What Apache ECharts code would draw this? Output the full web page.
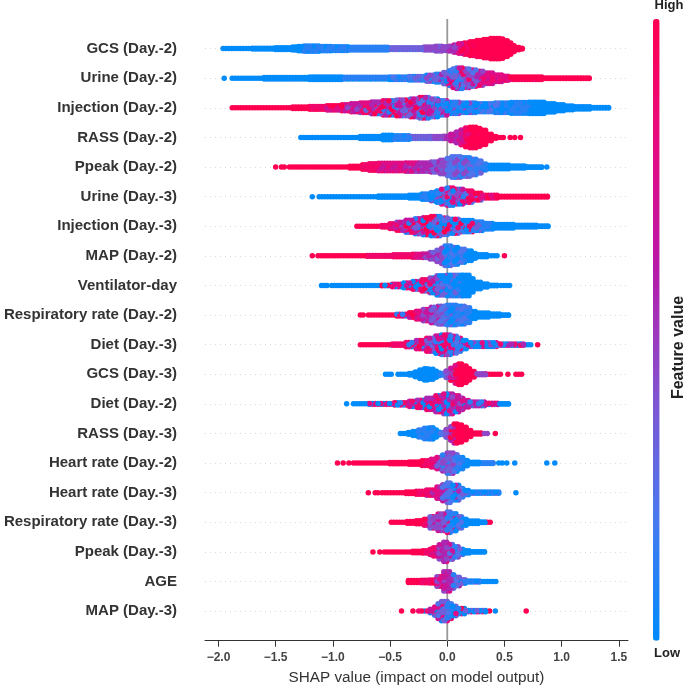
<!DOCTYPE html>
<html><head><meta charset="utf-8">
<script src="https://cdn.jsdelivr.net/npm/echarts@6/dist/echarts.min.js"></script>
<style>html,body{margin:0;padding:0;background:#fff}#c{width:685px;height:685px}</style>
</head><body><div id="c"></div>
<script>
const features = ["GCS (Day.-2)","Urine (Day.-2)","Injection (Day.-2)","RASS (Day.-2)","Ppeak (Day.-2)","Urine (Day.-3)","Injection (Day.-3)","MAP (Day.-2)","Ventilator-day","Respiratory rate (Day.-2)","Diet (Day.-3)","GCS (Day.-3)","Diet (Day.-2)","RASS (Day.-3)","Heart rate (Day.-2)","Heart rate (Day.-3)","Respiratory rate (Day.-3)","Ppeak (Day.-3)","AGE","MAP (Day.-3)"];
const xTicks = [-2,-1.5,-1,-0.5,0,0.5,1,1.5];
// Each run: [SHAP value where the run starts, swarm thickness level, feature-value tones 0-9]; level 0 ends a run.
const gcs2 = [[-1.96,1,"0"],[-1.7,1.3,"0"],[-1.5,1.6,"0"],[-1.35,2,"0"],[-1.3,2.5,"0"],[-1.25,2.8,"01"],[-1.1,2.5,"01"],[-1.0,2.2,"01"],[-0.85,1.9,"1"],[-0.5,1.6,"23"],[-0.2,2,"34"],[-0.1,2.6,"34"],[-0.04,2.2,"4"],[0.02,2.6,"45"],[0.06,3.5,"456"],[0.1,4.2,"5769"],[0.15,4.8,"6879"],[0.2,5.6,"7989"],[0.26,6.4,"8999"],[0.32,7.2,"8999"],[0.38,7.9,"9"],[0.46,7.5,"9"],[0.5,6.3,"9"],[0.53,4.8,"9"],[0.56,3,"9"],[0.6,1.7,"9"],[0.63,1.2,"9"],[0.66,0,"9"]];
const urine2 = [[-1.95,1,"0"],[-1.93,0,"0"],[-1.88,1,"0"],[-1.6,1.5,"0"],[-1.2,1.8,"0"],[-0.9,1.6,"01"],[-0.5,1.8,"012"],[-0.33,2.2,"0123"],[-0.18,3,"0134"],[-0.1,3.6,"13450"],[-0.03,4.8,"15370"],[0.02,6,"18361"],[0.05,7.3,"17382"],[0.08,7.9,"18361"],[0.14,7.2,"28463"],[0.2,6.5,"28463"],[0.26,5.7,"37584"],[0.32,4.5,"5768"],[0.4,3.2,"5768"],[0.48,2.4,"789"],[0.55,1.8,"89"],[0.84,1.2,"9"],[1.25,0,"9"]];
const injection2 = [[-1.88,1,"9"],[-1.35,1.5,"9"],[-1.2,1.9,"98"],[-1.05,2.4,"976"],[-0.92,3,"9684"],[-0.84,3.7,"9684"],[-0.76,4.2,"95738"],[-0.66,5,"38591"],[-0.56,5.8,"38591"],[-0.44,6.3,"39624"],[-0.32,7,"39624"],[-0.24,7.9,"28519"],[-0.16,7,"26041"],[-0.08,5.8,"26041"],[0,4.8,"3140"],[0.12,4.2,"2041"],[0.26,3.7,"021"],[0.42,4.2,"021"],[0.56,4.6,"01"],[0.72,4.8,"0"],[0.86,3.8,"0"],[0.94,3,"0"],[1.02,2.3,"0"],[1.12,1.8,"0"],[1.26,1.2,"0"],[1.42,0,"0"]];
const rass2 = [[-1.28,1,"0"],[-0.76,1.7,"0"],[-0.56,2.5,"0"],[-0.46,2.2,"01"],[-0.33,1.7,"23"],[-0.14,1.7,"34"],[-0.03,1.8,"45"],[0.03,3.2,"56"],[0.08,4.6,"567"],[0.12,6,"678"],[0.16,7.3,"798"],[0.2,7.9,"8999"],[0.26,7,"89"],[0.31,5.8,"9"],[0.36,3.2,"9"],[0.4,1.6,"9"],[0.44,1,"9"],[0.5,0,"9"],[0.55,1,"9"],[0.57,0,"9"],[0.59,1,"9"],[0.61,0,"9"],[0.64,1,"9"],[0.66,0,"9"]];
const ppeak2 = [[-1.5,1,"9"],[-1.48,0,"9"],[-1.45,1,"9"],[-1.4,0,"9"],[-1.38,1,"9"],[-0.85,1.6,"9"],[-0.74,2.5,"98"],[-0.68,3.2,"98"],[-0.6,3.6,"9786"],[-0.36,3.8,"6745"],[-0.24,3.8,"45"],[-0.14,4.4,"345"],[-0.06,5.6,"34"],[0,6.8,"32"],[0.04,7.9,"3214"],[0.12,7.2,"3124"],[0.2,6.2,"123"],[0.27,5,"123"],[0.31,3,"01"],[0.36,2.2,"0"],[0.55,1.7,"0"],[0.7,1.1,"0"],[0.84,0,"0"],[0.87,1,"0"],[0.89,0,"0"]];
const urine3 = [[-1.18,1,"0"],[-1.16,0,"0"],[-1.12,1,"0"],[-0.6,1.4,"0"],[-0.33,2,"0"],[-0.22,2.8,"01"],[-0.14,3.8,"0140"],[-0.09,4.8,"0140"],[-0.05,6,"07381"],[0,6.8,"08371"],[0.06,6,"28406"],[0.14,4.8,"71829"],[0.22,3.2,"5937"],[0.31,2,"789"],[0.45,1.3,"9"],[0.88,0,"9"]];
const injection3 = [[-0.79,1,"9"],[-0.57,1.5,"98"],[-0.5,2.6,"9785"],[-0.44,3.7,"98564"],[-0.36,5,"38691"],[-0.28,6,"39816"],[-0.21,6.8,"60938"],[-0.14,7.5,"38190"],[-0.05,6.6,"19032"],[0.02,5.8,"92083"],[0.12,4.8,"81029"],[0.23,3.9,"0103"],[0.32,2.9,"01"],[0.4,2.2,"0"],[0.6,1.6,"0"],[0.78,1.1,"0"],[0.9,0,"0"]];
const map2 = [[-1.18,1,"9"],[-1.16,0,"9"],[-1.13,1,"9"],[-0.7,1.3,"98"],[-0.47,1.7,"98"],[-0.3,2,"876"],[-0.21,2.2,"654"],[-0.15,3.2,"543"],[-0.09,4.8,"543"],[-0.05,6.2,"432"],[-0.02,7.6,"3120"],[0.04,6.6,"3210"],[0.1,5.4,"201"],[0.16,4.2,"0"],[0.22,2.6,"0"],[0.27,1.7,"0"],[0.36,1,"0"],[0.44,0,"0"],[0.5,1,"9"],[0.52,0,"9"]];
const ventilator = [[-1.1,1,"0"],[-1.04,0,"0"],[-1.01,1,"0"],[-0.57,1.2,"0930"],[-0.48,1.8,"0817"],[-0.38,2.6,"8096"],[-0.3,3.6,"70982"],[-0.22,4.8,"60839"],[-0.15,6,"40618"],[-0.09,7.5,"30204"],[0,7.9,"02031"],[0.14,7.9,"0"],[0.2,5.5,"0"],[0.24,3.2,"0"],[0.3,2,"0"],[0.36,1.2,"0"],[0.44,0,"0"],[0.47,1,"0"],[0.56,0,"0"]];
const resp2 = [[-0.76,1,"9"],[-0.71,0,"9"],[-0.69,1,"9"],[-0.44,1.6,"9861"],[-0.33,2.5,"976"],[-0.27,3.6,"8765"],[-0.21,4.8,"8654"],[-0.14,6.2,"5463"],[-0.08,7,"4342"],[0,7.6,"2130"],[0.1,7,"0102"],[0.17,6,"0102"],[0.22,3.4,"0"],[0.26,2.3,"0"],[0.38,1.7,"0"],[0.46,1.1,"0"],[0.56,0,"0"]];
const diet3 = [[-0.76,1,"9"],[-0.5,1,"0"],[-0.48,1.4,"98"],[-0.36,2.4,"9871"],[-0.27,3.8,"87951"],[-0.18,5.4,"86304"],[-0.1,6.8,"76180"],[-0.05,7.6,"61840"],[0.03,6.6,"67218"],[0.09,5.4,"5731"],[0.14,3.8,"1052"],[0.18,2.3,"01740"],[0.44,1.4,"08515"],[0.68,1,"0"],[0.74,0,"0"],[0.79,1,"9"],[0.81,0,"9"]];
const gcs3 = [[-0.54,1,"0"],[-0.48,0,"0"],[-0.43,1,"0"],[-0.33,1.5,"0"],[-0.28,2.6,"0"],[-0.24,3.8,"0"],[-0.2,4.8,"0"],[-0.15,4.4,"0"],[-0.12,3,"0"],[-0.09,1.8,"0"],[-0.06,1,"1"],[-0.03,1.6,"2"],[-0.01,3.2,"34"],[0.03,5,"469"],[0.07,7,"79"],[0.1,7.9,"9"],[0.14,6.6,"9"],[0.17,4.8,"9"],[0.21,2.8,"9"],[0.26,1.3,"4"],[0.34,1,"9"],[0.47,0,"9"],[0.53,1,"9"],[0.55,0,"9"],[0.6,1,"9"],[0.66,0,"9"]];
const diet2 = [[-0.88,1,"0"],[-0.86,0,"0"],[-0.82,1,"0"],[-0.68,1.2,"9780"],[-0.46,1.8,"98071"],[-0.33,2.7,"87605"],[-0.26,3.5,"86075"],[-0.18,4.8,"76508"],[-0.1,6.4,"60758"],[-0.03,7.6,"64057"],[0.05,6.4,"70658"],[0.11,4.8,"6704"],[0.16,3.2,"675"],[0.2,2.2,"4561"],[0.34,1.4,"4618"],[0.46,1.1,"0"],[0.56,0,"0"]];
const rass3 = [[-0.41,1,"0"],[-0.34,1.6,"0"],[-0.3,2.3,"0"],[-0.25,3.4,"01"],[-0.2,4.6,"01"],[-0.15,4.8,"01"],[-0.12,3.4,"0"],[-0.09,1.8,"0"],[-0.06,1,"2"],[-0.03,1.8,"3"],[-0.01,3.6,"34"],[0.03,5.5,"459"],[0.06,7.4,"69"],[0.1,6.8,"9"],[0.14,5.2,"9"],[0.18,3,"9"],[0.22,1.3,"9"],[0.3,1,"4"],[0.37,0,"4"],[0.42,1,"9"],[0.44,0,"9"]];
const hr2 = [[-0.96,1,"9"],[-0.94,0,"9"],[-0.91,1,"9"],[-0.89,0,"9"],[-0.86,1,"9"],[-0.84,0,"9"],[-0.82,1,"9"],[-0.5,1.4,"9"],[-0.33,1.8,"9"],[-0.22,2.6,"98"],[-0.14,3.6,"87"],[-0.09,4.8,"6573"],[-0.04,6.4,"5413"],[0,7.8,"5413"],[0.06,6.6,"3201"],[0.11,4.8,"201"],[0.15,2.8,"0"],[0.2,1.5,"0"],[0.3,1.3,"01"],[0.42,0,"0"],[0.45,1,"0"],[0.47,0,"0"],[0.48,1,"0"],[0.5,0,"0"],[0.52,1,"0"],[0.54,0,"0"],[0.59,1,"0"],[0.61,0,"0"],[0.87,1,"0"],[0.89,0,"0"],[0.94,1,"0"],[0.96,0,"0"]];
const hr3 = [[-0.69,1,"9"],[-0.67,0,"9"],[-0.63,1,"9"],[-0.58,0,"9"],[-0.57,1,"9"],[-0.36,1.5,"9"],[-0.27,2,"98"],[-0.18,2.8,"875"],[-0.09,4.8,"765"],[-0.04,6.4,"4562"],[0,7.6,"3214"],[0.05,6,"3510"],[0.11,3.9,"213"],[0.16,2.4,"031"],[0.2,1.4,"0130"],[0.46,0,"0"],[0.6,1,"0"],[0.62,0,"0"]];
const resp3 = [[-0.49,1,"9"],[-0.35,1.6,"9"],[-0.27,2,"9"],[-0.2,3,"985"],[-0.15,4.8,"8463"],[-0.08,6.6,"7364"],[0,7.9,"6281"],[0.05,6.8,"3018"],[0.1,4.8,"1032"],[0.14,3,"0"],[0.17,1.8,"0"],[0.28,1.2,"0"],[0.35,1,"9"],[0.38,0,"9"]];
const ppeak3 = [[-0.65,1,"9"],[-0.63,0,"9"],[-0.59,1,"9"],[-0.57,0,"9"],[-0.55,1,"9"],[-0.3,1.5,"9"],[-0.21,1.8,"98"],[-0.15,2.8,"876"],[-0.12,3.8,"876"],[-0.07,5.8,"7654"],[-0.03,7.5,"6574"],[0.02,6,"4652"],[0.07,4.4,"3142"],[0.11,2.8,"2103"],[0.14,1.7,"0"],[0.2,1.1,"0"],[0.35,0,"0"]];
const age = [[-0.34,1.6,"9"],[-0.22,1.8,"98"],[-0.15,2,"987"],[-0.09,4.2,"8764"],[-0.03,7.5,"7546"],[0.03,5.5,"6531"],[0.08,3.9,"5302"],[0.13,2.2,"301"],[0.18,1.3,"0140"],[0.3,1,"0"],[0.43,0,"0"]];
const map3 = [[-0.4,1,"9"],[-0.38,0,"9"],[-0.3,1,"9"],[-0.28,0,"9"],[-0.25,1,"908"],[-0.15,2.2,"5816"],[-0.11,3.8,"1703"],[-0.08,6,"0362"],[-0.05,7.5,"0371"],[0.01,6,"8102"],[0.05,4.2,"8037"],[0.1,2.8,"7091"],[0.16,1.4,"9083"],[0.34,0,"0"],[0.37,1,"9"],[0.39,0,"9"],[0.42,1,"0"],[0.44,0,"0"],[0.69,1,"9"],[0.71,0,"9"]];
const rows = [gcs2,urine2,injection2,rass2,ppeak2,urine3,injection3,map2,ventilator,resp2,diet3,gcs3,diet2,rass3,hr2,hr3,resp3,ppeak3,age,map3];

const binStep = 0.025, levelStep = 0.1, layers = 4;
const layered = Array.from({length:layers},()=>[]);
rows.forEach((runs, r) => {
  const y0 = features.length - 1 - r;
  let idx = 0;
  runs.forEach((run, j) => {
    const [x0, level, tones] = run;
    if (!level) return;
    const end = runs[j + 1][0];
    const count = Math.ceil(level);
    const span = (level - 1) * levelStep;
    for (let x = x0; x < end - 1e-6; x += binStep, idx++) {
      for (let k = 0; k < count; k++) {
        const t = tones[(idx * (k + 1) + k * 3) % tones.length];
        const off = count > 1 ? k / (count - 1) - 0.5 : 0;
        layered[(idx * 3 + k * 5) % layers].push([+x.toFixed(3), y0 + off * span, +t]);
      }
    }
  });
});
const points = layered.flat();

const chart = echarts.init(document.getElementById('c'), null, {renderer:'canvas'});
chart.setOption({
  animation:false,
  backgroundColor:'#fff',
  textStyle:{fontFamily:'"Liberation Sans",Arial,sans-serif'},
  grid:{left:205,right:57,top:19,bottom:44.3,containLabel:false,outerBoundsMode:'none'},
  xAxis:{type:'value',min:-2.118,max:1.58,
    name:'SHAP value (impact on model output)',nameLocation:'middle',nameGap:30,
    nameTextStyle:{fontSize:15.3,color:'#333'},
    axisLine:{onZero:false,lineStyle:{color:'#333',width:1}},
    axisTick:{length:6,lineStyle:{color:'#333',width:1},customValues:xTicks},
    axisLabel:{customValues:xTicks,fontSize:12,fontWeight:'bold',color:'#444',margin:11,
      formatter:v=>v.toFixed(1).replace('-','\u2212')},
    splitLine:{show:false}},
  yAxis:{type:'value',min:-1,max:20,interval:1,
    axisLine:{show:false},axisTick:{show:false},
    axisLabel:{fontSize:15,fontWeight:'bold',color:'#333',margin:28,padding:[2,0,0,0],
      showMinLabel:false,showMaxLabel:false,
      formatter:v=>(v>=0&&v<features.length)?features[features.length-1-v]:''},
    splitLine:{show:true,showMinLine:false,showMaxLine:false,lineStyle:{color:'#d8d8d8',type:[1,4],width:1}}},
  visualMap:{type:'continuous',dimension:2,min:0,max:9,seriesIndex:1,
    calculable:false,realtime:false,orient:'vertical',
    left:653,top:19,itemWidth:6.6,itemHeight:621.7,padding:0,textGap:0,
    inRange:{color:['#008bfb','#4a78ef','#8352d0','#b81aa8','#e60a80','#ff0051']}},
  series:[
    {type:'line',data:[[0,-1],[0,20]],symbol:'none',silent:true,z:1,
      lineStyle:{color:'#999',width:1.8}},
    {type:'scatter',data:points,symbolSize:5.5,z:2,silent:true,progressive:0,
      itemStyle:{opacity:1}}
  ],
  graphic:[
    {type:'text',x:669,y:5,silent:true,style:{text:'High',font:'bold 13px "Liberation Sans",Arial,sans-serif',fill:'#222',align:'center',verticalAlign:'middle'}},
    {type:'text',x:667,y:653,silent:true,style:{text:'Low',font:'bold 13px "Liberation Sans",Arial,sans-serif',fill:'#222',align:'center',verticalAlign:'middle'}},
    {type:'text',x:679,y:347.5,rotation:Math.PI/2,silent:true,style:{text:'Feature value',font:'bold 16px "Liberation Sans",Arial,sans-serif',fill:'#222',align:'center',verticalAlign:'middle'}}
  ]
});
</script></body></html>
